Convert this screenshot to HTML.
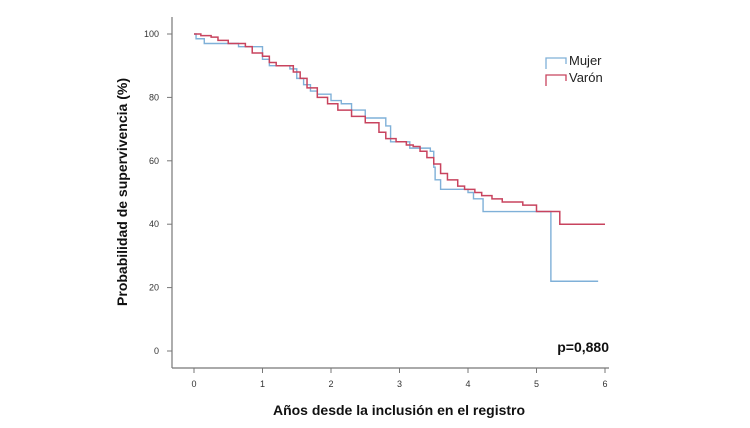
<!DOCTYPE html>
<html><head><meta charset="utf-8">
<style>
body{margin:0;background:#fff;font-family:"Liberation Sans",sans-serif}
</style></head><body>
<svg id="chart" width="750" height="423" xmlns="http://www.w3.org/2000/svg">
<g id="axes"></g>
<g id="series"></g>
<text transform="translate(127,192) rotate(-90)" text-anchor="middle" font-size="14" font-weight="bold" fill="#111">Probabilidad de supervivencia (%)</text>
<text x="399" y="415" text-anchor="middle" font-size="14" font-weight="bold" fill="#111">Años desde la inclusión en el registro</text>
<text x="609" y="352" text-anchor="end" font-size="14" font-weight="bold" fill="#111">p=0,880</text>
<g>
<path d="M546,69 L546,58 L566,58 L566,64" fill="none" stroke="#7fb0d8" stroke-width="1.3"/>
<text x="569" y="65" font-size="13" fill="#222">Mujer</text>
<path d="M546,86 L546,75 L566,75 L566,81" fill="none" stroke="#c8435e" stroke-width="1.3"/>
<text x="569" y="82" font-size="13" fill="#222">Varón</text>
</g>
</svg>
<script>
const xTicks=[0,1,2,3,4,5,6];
const yTicks=[0,20,40,60,80,100];
const mujerT=[0,0.03,0.15,0.65,1.0,1.1,1.4,1.5,1.6,1.7,1.8,2.0,2.15,2.3,2.5,2.8,2.87,3.15,3.45,3.5,3.52,3.6,4.0,4.08,4.22,5.21,5.9];
const mujerS=[100,98.5,97,96,92,90,89,86,84,82,81,79,78,76,73.5,71,66,64,63,58,54,51,50,48,44,22,22];
const varonT=[0,0.1,0.25,0.35,0.5,0.75,0.85,1.0,1.1,1.2,1.45,1.55,1.65,1.8,1.95,2.1,2.3,2.5,2.7,2.8,2.95,3.1,3.2,3.3,3.4,3.5,3.6,3.7,3.85,3.95,4.1,4.2,4.35,4.5,4.8,5.0,5.34,6.0];
const varonS=[100,99.5,99,98,97,96,94,93,91,90,88,86,83,80,78,76,74,72,69,67,66,65,64.5,63,61,59,56,54,52,51,50,49,48,47,46,44,40,40];
const X=v=>194+v*68.5;
const Y=v=>351-v*3.17;
const NS="http://www.w3.org/2000/svg";
const ax=document.getElementById('axes');
function mk(t,a,p){const e=document.createElementNS(NS,t);for(const k in a)e.setAttribute(k,a[k]);p.appendChild(e);return e;}
const yl=mk('line',{x1:172,y1:17,x2:172,y2:368,stroke:'#777','stroke-width':1.2},ax);


const xl=mk('line',{x1:172,y1:368,x2:609,y2:368,stroke:'#777','stroke-width':1.2},ax);


xTicks.forEach(t=>{
 mk('line',{x1:X(t),y1:368,x2:X(t),y2:373,stroke:'#777'},ax);
 const tx=mk('text',{x:X(t),y:387,'text-anchor':'middle','font-size':9,fill:'#333'},ax);tx.textContent=t;
 
 
});
yTicks.forEach(t=>{
 mk('line',{x1:167,y1:Y(t),x2:172,y2:Y(t),stroke:'#777'},ax);
 const tx=mk('text',{x:159,y:Y(t)+3,'text-anchor':'end','font-size':9,fill:'#333'},ax);tx.textContent=t;
 
 
});
function step(T,S){let d='M'+X(T[0])+','+Y(S[0]);for(let i=1;i<T.length;i++){d+=' H'+X(T[i])+' V'+Y(S[i]);}return d;}
const sg=document.getElementById('series');
const pm=mk('path',{d:step(mujerT,mujerS),fill:'none',stroke:'#7fb0d8','stroke-width':1.4},sg);


const pv=mk('path',{d:step(varonT,varonS),fill:'none',stroke:'#c8435e','stroke-width':1.5},sg);


</script>
</body></html>
